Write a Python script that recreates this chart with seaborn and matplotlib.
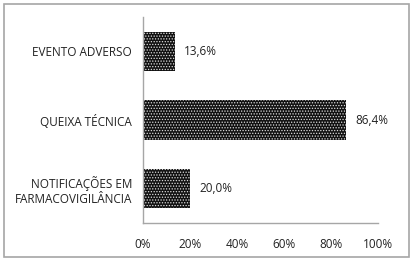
import matplotlib
matplotlib.use("Agg")
import matplotlib.pyplot as plt
import seaborn as sns
import pandas as pd
from matplotlib.patches import Rectangle

categories = ["EVENTO ADVERSO", "QUEIXA TÉCNICA", "NOTIFICAÇÕES EM\nFARMACOVIGILÂNCIA"]
values = [13.6, 86.4, 20.0]
value_labels = ["13,6%", "86,4%", "20,0%"]
xticks = [0, 20, 40, 60, 80, 100]
xtick_labels = ["0%", "20%", "40%", "60%", "80%", "100%"]

sns.set_style("white")
plt.rcParams['font.family'] = ['Open Sans', 'DejaVu Sans']
plt.rcParams['hatch.linewidth'] = 0.6

df = pd.DataFrame({"cat": categories, "val": values})

fig = plt.figure(figsize=(4.14, 2.63), dpi=100)
ax = fig.add_axes([143/414, 1 - 223/263, 235/414, 206/263])

sns.barplot(data=df, x="val", y="cat", orient="h", color="#111111", width=0.57,
            ax=ax, saturation=1)
for p in ax.patches:
    p.set_facecolor("#111111")
    p.set_edgecolor("#dddddd")
    p.set_hatch("......")
    p.set_linewidth(0)

for i, (v, lab) in enumerate(zip(values, value_labels)):
    ax.text(v + 4, i, lab, va="center", ha="left", fontsize=8.5, color="#222222")

ax.set_xlim(0, 100)
ax.set_ylim(2.5, -0.5)
ax.set_xticks(xticks)
ax.set_xticklabels(xtick_labels, fontsize=8.5, color="#222222")
ax.tick_params(axis="x", length=0, pad=11)
ax.tick_params(axis="y", length=0, pad=8, labelsize=8.5, labelcolor="#222222")
ax.set_xlabel("")
ax.set_ylabel("")
for s in ["top", "right"]:
    ax.spines[s].set_visible(False)
for s in ["left", "bottom"]:
    ax.spines[s].set_color("#a6a6a6")
    ax.spines[s].set_linewidth(1)

fig.patches.append(Rectangle((4/414, 6/263), 405/414, 253/263, transform=fig.transFigure,
                             fill=False, edgecolor="#a6a6a6", linewidth=1.2))

fig.savefig("out.png", dpi=100)
